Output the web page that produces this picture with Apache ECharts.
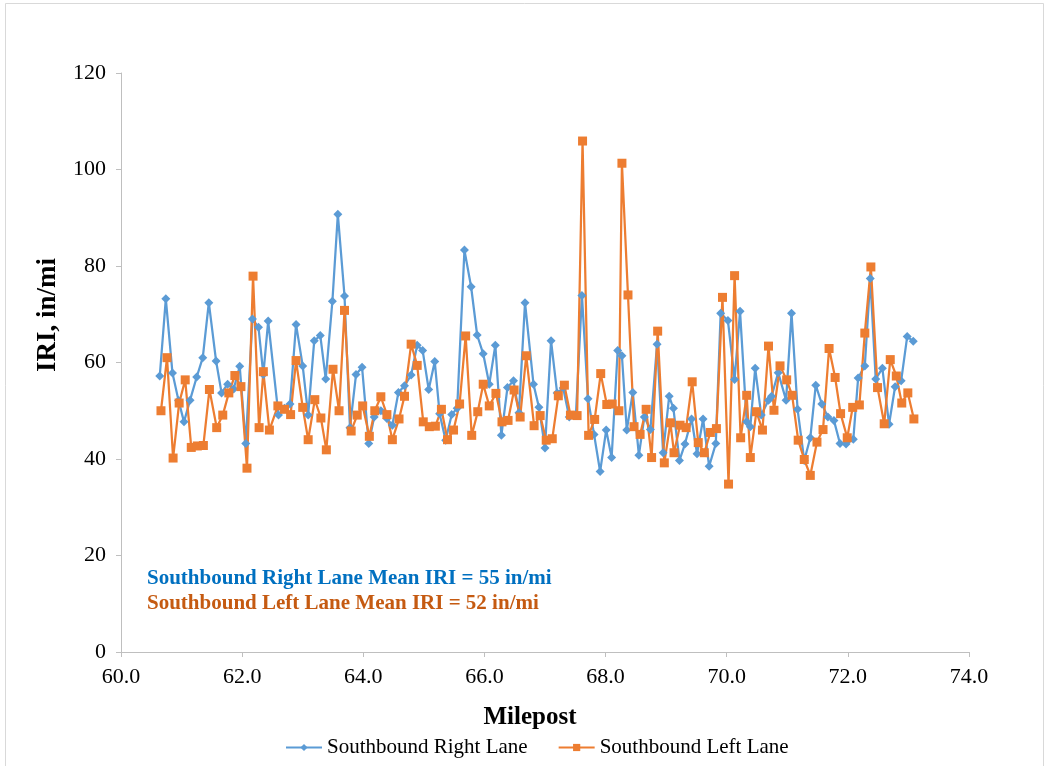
<!DOCTYPE html>
<html lang="en" style="height: 100%">
<head>
  <meta charset="utf-8">
  <title>IRI by milepost</title>
</head>
<body style="height: 100%; margin: 0; background: #fff">
  <div id="container" style="width: 1047px; height: 766px"></div>
  <script type="text/javascript" src="https://cdn.jsdelivr.net/npm/echarts@6/dist/echarts.min.js"></script>
  <script type="text/javascript">
// Southbound Right Lane
const rightMile = [60.64, 60.74, 60.85, 60.95, 61.04, 61.14, 61.25, 61.35, 61.45, 61.57,
  61.66, 61.76, 61.86, 61.96, 62.06, 62.17, 62.27, 62.35, 62.43, 62.60,
  62.70, 62.79, 62.89, 63.00, 63.09, 63.19, 63.29, 63.38, 63.49, 63.58,
  63.69, 63.78, 63.88, 63.98, 64.09, 64.18, 64.29, 64.39, 64.48, 64.58,
  64.68, 64.79, 64.89, 64.98, 65.08, 65.18, 65.26, 65.36, 65.46, 65.55,
  65.67, 65.78, 65.88, 65.98, 66.08, 66.18, 66.28, 66.38, 66.48, 66.57,
  66.67, 66.81, 66.90, 67.00, 67.10, 67.20, 67.30, 67.40, 67.51, 67.61,
  67.71, 67.81, 67.91, 68.01, 68.10, 68.20, 68.27, 68.35, 68.45, 68.55,
  68.64, 68.74, 68.85, 68.95, 69.05, 69.12, 69.22, 69.31, 69.42, 69.51,
  69.61, 69.71, 69.82, 69.90, 70.02, 70.13, 70.22, 70.33, 70.39, 70.47,
  70.57, 70.69, 70.74, 70.85, 70.98, 71.07, 71.17, 71.28, 71.38, 71.47,
  71.57, 71.67, 71.77, 71.87, 71.97, 72.09, 72.17, 72.28, 72.37, 72.46,
  72.57, 72.68, 72.78, 72.88, 72.98, 73.08];
const rightIri = [57.2, 73.2, 57.8, 52.1, 47.7, 52.2, 57.0, 61.0, 72.4, 60.3,
  53.7, 55.5, 54.5, 59.2, 43.2, 69.0, 67.3, 57.5, 68.6, 49.1,
  50.5, 51.4, 67.9, 59.3, 49.1, 64.5, 65.6, 56.6, 72.7, 90.7,
  73.8, 46.5, 57.5, 59.0, 43.2, 48.7, 50.0, 48.4, 47.0, 53.8,
  55.2, 57.4, 63.6, 62.5, 54.4, 60.2, 49.4, 43.9, 49.2, 50.5,
  83.3, 75.7, 65.7, 61.8, 55.5, 63.6, 44.9, 54.8, 56.2, 49.6,
  72.4, 55.5, 50.7, 42.3, 64.5, 53.7, 54.7, 48.7, 49.1, 73.9,
  52.5, 45.1, 37.4, 46.0, 40.3, 62.5, 61.4, 46.0, 53.8, 40.8,
  48.7, 46.1, 63.8, 41.3, 53.0, 50.5, 39.7, 43.1, 48.3, 41.1,
  48.3, 38.5, 43.2, 70.2, 68.7, 56.5, 70.6, 47.7, 46.7, 58.8,
  49.1, 52.2, 53.0, 57.9, 52.2, 70.2, 50.3, 39.7, 44.4, 55.3,
  51.4, 48.7, 48.0, 43.2, 43.1, 44.1, 56.8, 59.3, 77.4, 56.6,
  58.8, 47.2, 55.0, 56.2, 65.4, 64.4];

// Southbound Left Lane
const leftMile = [60.66, 60.76, 60.86, 60.96, 61.06, 61.16, 61.26, 61.36, 61.46, 61.58,
  61.68, 61.78, 61.88, 61.98, 62.08, 62.18, 62.28, 62.35, 62.45, 62.59,
  62.70, 62.80, 62.89, 63.00, 63.09, 63.20, 63.30, 63.39, 63.50, 63.60,
  63.69, 63.80, 63.90, 63.99, 64.10, 64.19, 64.29, 64.39, 64.48, 64.59,
  64.68, 64.79, 64.89, 64.99, 65.09, 65.19, 65.29, 65.39, 65.49, 65.59,
  65.69, 65.79, 65.89, 65.98, 66.08, 66.19, 66.29, 66.39, 66.49, 66.59,
  66.69, 66.82, 66.92, 67.02, 67.12, 67.22, 67.32, 67.42, 67.53, 67.62,
  67.72, 67.82, 67.92, 68.02, 68.11, 68.22, 68.27, 68.37, 68.47, 68.57,
  68.67, 68.76, 68.86, 68.97, 69.07, 69.13, 69.23, 69.33, 69.43, 69.53,
  69.63, 69.73, 69.83, 69.93, 70.03, 70.13, 70.23, 70.33, 70.39, 70.49,
  70.59, 70.69, 70.78, 70.88, 70.99, 71.08, 71.18, 71.28, 71.38, 71.49,
  71.59, 71.69, 71.79, 71.88, 71.99, 72.08, 72.19, 72.28, 72.38, 72.49,
  72.60, 72.70, 72.80, 72.89, 72.99, 73.09];
const leftIri = [50.0, 61.0, 40.2, 51.6, 56.4, 42.4, 42.7, 42.8, 54.4, 46.5,
  49.1, 53.7, 57.3, 55.0, 38.1, 77.9, 46.5, 58.1, 46.0, 51.0,
  50.3, 49.2, 60.4, 50.7, 44.0, 52.3, 48.5, 41.9, 58.6, 50.0,
  70.8, 45.8, 49.1, 51.0, 44.7, 50.0, 52.9, 49.2, 44.0, 48.3,
  53.0, 63.8, 59.4, 47.7, 46.7, 46.8, 50.3, 44.0, 46.0, 51.4,
  65.5, 44.9, 49.8, 55.5, 51.0, 53.6, 47.7, 48.0, 54.3, 48.7,
  61.4, 46.9, 49.0, 43.9, 44.2, 53.1, 55.3, 49.1, 49.0, 105.9,
  44.9, 48.2, 57.7, 51.3, 51.4, 50.0, 101.3, 74.0, 46.7, 45.1,
  50.3, 40.3, 66.5, 39.2, 47.5, 41.3, 47.0, 46.5, 56.0, 43.4,
  41.3, 45.5, 46.3, 73.5, 34.8, 78.0, 44.4, 53.2, 40.3, 49.8,
  46.0, 63.4, 50.1, 59.3, 56.4, 53.2, 43.9, 39.9, 36.6, 43.5,
  46.1, 62.9, 56.9, 49.4, 44.4, 50.7, 51.2, 66.1, 79.8, 54.8,
  47.3, 60.6, 57.2, 51.6, 53.7, 48.3];

const seriesNames = ['Southbound Right Lane', 'Southbound Left Lane'];
const meanNotes = ['Southbound Right Lane Mean IRI = 55 in/mi', 'Southbound Left Lane Mean IRI = 52 in/mi'];
const xTitle = 'Milepost';
const yTitle = 'IRI, in/mi';

var dom = document.getElementById('container');
var myChart = echarts.init(dom, null, { renderer: 'canvas' });

const serif = '"Liberation Serif", "DejaVu Serif", serif';
const zip = (xs, ys) => xs.map((x, i) => [x, ys[i]]);

var option = {
  animation: false,
  backgroundColor: '#fff',
  textStyle: { fontFamily: serif },
  grid: { left: 121, right: 78, top: 73, bottom: 114 },
  legend: {
    bottom: 3,
    left: 280,
    itemWidth: 36,
    itemHeight: 9,
    itemGap: 30,
    textStyle: { fontFamily: serif, fontSize: 21, color: '#000' },
    data: seriesNames
  },
  xAxis: {
    type: 'value',
    min: 60, max: 74, interval: 2,
    axisLine: { lineStyle: { color: '#bfbfbf', width: 1 } },
    axisTick: { show: true, length: 5, lineStyle: { color: '#bfbfbf' } },
    splitLine: { show: false },
    axisLabel: {
      fontFamily: serif, fontSize: 22, color: '#000', margin: 14,
      formatter: v => v.toFixed(1)
    }
  },
  yAxis: {
    type: 'value',
    min: 0, max: 120, interval: 20,
    axisLine: { show: true, lineStyle: { color: '#bfbfbf', width: 1 } },
    axisTick: { show: true, length: 5, lineStyle: { color: '#bfbfbf' } },
    splitLine: { show: false },
    axisLabel: { fontFamily: serif, fontSize: 22, color: '#000', margin: 15 }
  },
  graphic: [
    {
      type: 'text', x: 530, y: 718,
      style: { text: xTitle, fill: '#000', font: 'bold 25px ' + serif, align: 'center', verticalAlign: 'middle' }
    },
    {
      type: 'text', x: 48, y: 315, rotation: Math.PI / 2,
      style: { text: yTitle, fill: '#000', font: 'bold 27px ' + serif, align: 'center', verticalAlign: 'middle' }
    },
    {
      type: 'text', left: 147, top: 568,
      style: { text: meanNotes[0], fill: '#0070C0', font: 'bold 21px ' + serif }
    },
    {
      type: 'text', left: 147, top: 593,
      style: { text: meanNotes[1], fill: '#C55A11', font: 'bold 21px ' + serif }
    },
    {
      type: 'rect', left: 3, top: 1,
      shape: { width: 1038, height: 800 },
      style: { fill: 'none', stroke: '#d9d9d9', lineWidth: 1 },
      silent: true
    }
  ],
  series: [
    {
      name: seriesNames[0],
      type: 'line',
      data: zip(rightMile, rightIri),
      symbol: 'diamond',
      symbolSize: 9,
      showAllSymbol: true,
      color: '#5B9BD5',
      lineStyle: { width: 2.25, color: '#5B9BD5' },
      itemStyle: { color: '#5B9BD5' }
    },
    {
      name: seriesNames[1],
      type: 'line',
      data: zip(leftMile, leftIri),
      symbol: 'rect',
      symbolSize: 9,
      showAllSymbol: true,
      color: '#ED7D31',
      lineStyle: { width: 2.25, color: '#ED7D31' },
      itemStyle: { color: '#ED7D31' }
    }
  ]
};

if (option && typeof option === 'object') {
  myChart.setOption(option);
}
window.addEventListener('resize', myChart.resize);
  </script>
</body>
</html>
